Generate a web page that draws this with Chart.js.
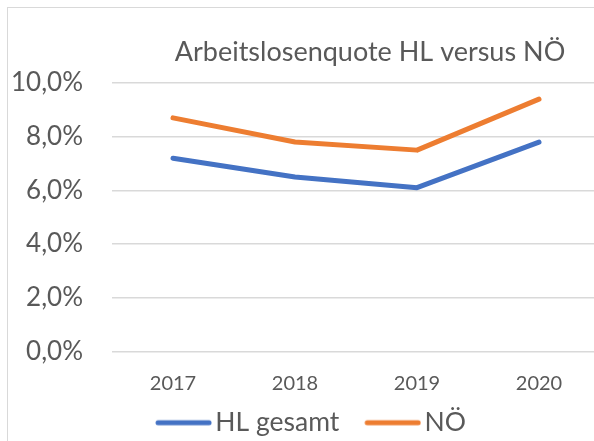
<!DOCTYPE html>
<html>
<head>
<meta charset="utf-8">
<script src="https://cdn.jsdelivr.net/npm/chart.js@4.4.1/dist/chart.umd.min.js"></script>
<style>
  html, body { margin: 0; padding: 0; background: #fff; overflow: hidden; width: 594px; height: 441px; }
  #frame { position: absolute; left: 7px; top: 7px; width: 604px; height: 450px; border: 1px solid #d9d9d9; }
  canvas { display: block; }
</style>
</head>
<body>
<div id="frame"><canvas id="chart" width="604" height="450"></canvas></div>
<script>
const years = ["2017", "2018", "2019", "2020"];
const hlGesamt = [7.2, 6.5, 6.1, 7.8];
const noe = [8.7, 7.8, 7.5, 9.4];
const yTicks = [0, 2, 4, 6, 8, 10];
const chartTitle = "Arbeitslosenquote HL versus NÖ";

const fontFamily = "Lato, 'Open Sans', sans-serif";
const textColor = "#595959";
const blue = "#4472C4";
const orange = "#ED7D31";

// legend glyph: short thick line, placed close to its label like Excel does
function legendLine(color) {
  const c = document.createElement("canvas");
  c.width = 80;
  c.height = 8;
  const g = c.getContext("2d");
  g.strokeStyle = color;
  g.lineWidth = 5;
  g.lineCap = "round";
  g.beginPath();
  g.moveTo(26, 4);
  g.lineTo(77, 4);
  g.stroke();
  return c;
}

// title sits a bit right of the plot centre, like the Excel original
const titlePlugin = {
  id: "excelTitle",
  afterDraw(chart) {
    const { ctx, chartArea } = chart;
    ctx.save();
    ctx.font = "27px " + fontFamily;
    ctx.fillStyle = textColor;
    ctx.textAlign = "center";
    ctx.textBaseline = "alphabetic";
    ctx.fillText(chartTitle, (chartArea.left + chartArea.right) / 2 + 14, 53);
    ctx.restore();
  }
};

new Chart(document.getElementById("chart"), {
  type: "line",
  data: {
    labels: years,
    datasets: [
      {
        label: "HL gesamt",
        data: hlGesamt,
        borderColor: blue,
        backgroundColor: blue,
        borderWidth: 5,
        borderCapStyle: "round",
        borderJoinStyle: "round",
        pointRadius: 0,
        pointStyle: legendLine(blue),
        tension: 0,
      },
      {
        label: "NÖ",
        data: noe,
        borderColor: orange,
        backgroundColor: orange,
        borderWidth: 5,
        borderCapStyle: "round",
        borderJoinStyle: "round",
        pointRadius: 0,
        pointStyle: legendLine(orange),
        tension: 0,
      },
    ],
  },
  options: {
    responsive: false,
    animation: false,
    layout: { padding: { top: 75, right: 12, bottom: 12 } },
    plugins: {
      title: { display: false },
      tooltip: { enabled: false },
      legend: {
        position: "bottom",
        labels: {
          usePointStyle: true,
          pointStyleWidth: 60,
          padding: 12,
          color: textColor,
          font: { family: fontFamily, size: 26.5 },
        },
      },
    },
    scales: {
      x: {
        offset: true,
        grid: { display: false },
        border: { display: false },
        ticks: { color: textColor, padding: 12, font: { family: fontFamily, size: 20 } },
        afterFit(scale) { scale.height = 46; },
      },
      y: {
        min: 0,
        max: 10,
        afterBuildTicks(scale) { scale.ticks = yTicks.map(v => ({ value: v })); },
        grid: { color: "#d9d9d9", lineWidth: 1.5, drawTicks: false },
        border: { display: false },
        ticks: {
          color: textColor,
          padding: 29,
          font: { family: fontFamily, size: 26 },
          callback: v => v.toFixed(1).replace(".", ",") + "%",
        },
        afterFit(scale) { scale.width = 104; },
      },
    },
  },
  plugins: [titlePlugin],
});
</script>
</body>
</html>
